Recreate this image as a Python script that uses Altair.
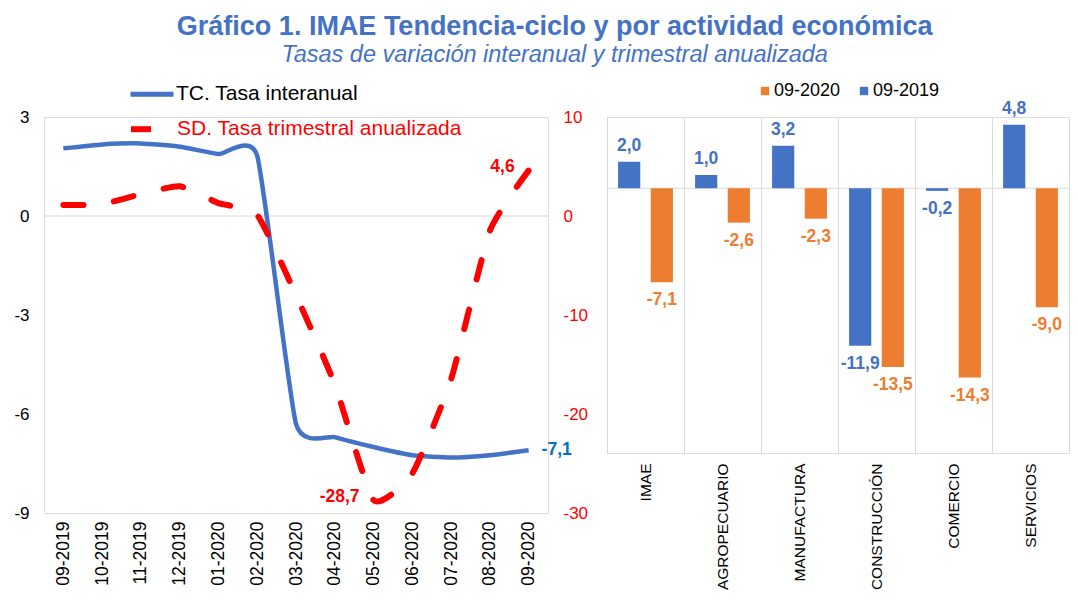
import altair as alt
import pandas as pd

# ---------------- data ----------------
meses = ['09-2019', '10-2019', '11-2019', '12-2019', '01-2020', '02-2020', '03-2020',
         '04-2020', '05-2020', '06-2020', '07-2020', '08-2020', '09-2020']
tc_interanual = [2.05, 2.17, 2.2, 2.1, 1.88, 1.82, -6.3, -6.7, -7.0, -7.25, -7.32, -7.25, -7.1]
sd_trimestral = [1.1, 1.2, 2.2, 3.0, 1.3, 0.1, -8.0, -17.0, -28.7, -26.0, -16.5, -1.5, 4.6]

actividades = ['IMAE', 'AGROPECUARIO', 'MANUFACTURA', 'CONSTRUCCIÓN', 'COMERCIO', 'SERVICIOS']
var_2019 = [2.0, 1.0, 3.2, -11.9, -0.2, 4.8]
var_2020 = [-7.1, -2.6, -2.3, -13.5, -14.3, -9.0]

TC_NAME = 'TC. Tasa interanual'
SD_NAME = 'SD. Tasa trimestral anualizada'
FONT = 'Liberation Sans'
BLUE = '#4472C4'
ORANGE = '#ED7D31'
RED = '#FF0000'
MINUS = '\u2212'

df_tc = pd.DataFrame({'mes': meses, 'valor': tc_interanual, 'serie': TC_NAME})
df_sd = pd.DataFrame({'mes': meses, 'valor': sd_trimestral, 'serie': SD_NAME})
df_zero = pd.DataFrame({'valor': [0]})

df_bar = pd.concat([
    pd.DataFrame({'actividad': actividades, 'periodo': '09-2019', 'valor': var_2019}),
    pd.DataFrame({'actividad': actividades, 'periodo': '09-2020', 'valor': var_2020}),
], ignore_index=True)

label_expr = "replace(replace(format(datum.valor, '.1f'), '.', ','), '" + MINUS + "', '-')"
axis_label_expr = "replace(datum.label, '" + MINUS + "', '-')"

# ---------------- left panel ----------------
x_left = alt.X('mes:N', sort=meses,
               scale=alt.Scale(type='point', padding=0.5),
               axis=alt.Axis(title=None, labelAngle=270, labelFontSize=17.5, labelColor='black',
                             labelFont=FONT, domain=False, ticks=False, labelPadding=8, grid=False))

y_tc = alt.Y('valor:Q', scale=alt.Scale(domain=[-9, 3], nice=False, zero=False),
             axis=alt.Axis(title=None, values=[-9, -6, -3, 0, 3], orient='left', labelFontSize=17,
                           labelColor='black', labelFont=FONT, domain=False, ticks=False,
                           grid=False, labelPadding=15, labelExpr=axis_label_expr))

y_sd = alt.Y('valor:Q', scale=alt.Scale(domain=[-30, 10], nice=False, zero=False),
             axis=alt.Axis(title=None, values=[-30, -20, -10, 0, 10], orient='right', labelFontSize=17,
                           labelColor=RED, labelFont=FONT, domain=False, ticks=False,
                           grid=False, labelPadding=15, labelExpr=axis_label_expr))

zero_rule = alt.Chart(df_zero).mark_rule(color='#d9d9d9', strokeWidth=1).encode(y=y_tc)

tc_line = alt.Chart(df_tc).mark_line(strokeWidth=4.5, interpolate='cardinal', tension=0.5).encode(
    x=x_left, y=y_tc,
    color=alt.Color('serie:N', scale=alt.Scale(domain=[TC_NAME], range=[BLUE]),
                    legend=alt.Legend(title=None, orient='none', legendX=84, legendY=-46.7,
                                      symbolType='stroke', symbolSize=1849, symbolStrokeWidth=5,
                                      labelFontSize=21, labelColor='black', labelFont=FONT,
                                      labelLimit=0, padding=0, labelOffset=0)))

tc_label = alt.Chart(df_tc).transform_filter(
    alt.datum.mes == '09-2020'
).transform_calculate(lbl=label_expr).mark_text(
    align='left', baseline='middle', dx=13, fontSize=17.5, fontWeight='bold', font=FONT, color='#0070C0'
).encode(x=x_left, y=y_tc, text='lbl:N')

sd_line = alt.Chart(df_sd).mark_line(strokeWidth=6, strokeDash=[20, 31], strokeCap='round',
                                     interpolate='cardinal', tension=0.5).encode(
    x=x_left, y=y_sd,
    stroke=alt.Stroke('serie:N', scale=alt.Scale(domain=[SD_NAME], range=[RED]),
                      legend=alt.Legend(title=None, orient='none', legendX=84, legendY=-12.3,
                                        symbolType='stroke', symbolSize=1849, symbolStrokeWidth=6,
                                        symbolDash=[20, 31],
                                        labelFontSize=21, labelColor=RED, labelFont=FONT,
                                        labelLimit=0, padding=0, labelOffset=0)))

sd_label = alt.Chart(df_sd).transform_filter(
    alt.FieldOneOfPredicate(field='mes', oneOf=['05-2020', '09-2020'])
).transform_calculate(lbl=label_expr).mark_text(
    align='right', baseline='middle', dx=-14, dy=-3, fontSize=17.5, fontWeight='bold', font=FONT, color=RED
).encode(x=x_left, y=y_sd, text='lbl:N')

left = alt.layer(
    alt.layer(zero_rule, tc_line, tc_label),
    alt.layer(sd_line, sd_label),
).resolve_scale(y='independent').properties(width=504, height=396)

# ---------------- right panel ----------------
x_right = alt.X('actividad:N', sort=actividades,
                scale=alt.Scale(paddingInner=0, paddingOuter=0),
                axis=alt.Axis(title=None, labelAngle=270, tickBand='extent', grid=True,
                              gridColor='#d9d9d9', domain=False, ticks=False, labelFontSize=15.5,
                              labelColor='black', labelFont=FONT, labelPadding=10))
xoff = alt.XOffset('periodo:N', sort=['09-2019', '09-2020'],
                   scale=alt.Scale(paddingInner=0.32, paddingOuter=0.34))
y_right = alt.Y('valor:Q', scale=alt.Scale(domain=[-20, 5.38], nice=False, zero=False), axis=None)
color_right = alt.Color('periodo:N', scale=alt.Scale(domain=['09-2020', '09-2019'], range=[ORANGE, BLUE]),
                        legend=alt.Legend(title=None, orient='none', legendX=149, legendY=-35,
                                          direction='horizontal', symbolType='square', symbolSize=70,
                                          symbolStrokeWidth=0, labelFontSize=18, labelFont=FONT,
                                          labelColor='black', columnPadding=14, labelOffset=0,
                                          labelLimit=0, padding=0))

zero_rule_r = alt.Chart(df_zero).mark_rule(color='#d9d9d9', strokeWidth=1).encode(y=y_right)
bars = alt.Chart(df_bar).mark_bar().encode(x=x_right, xOffset=xoff, y=y_right, color=color_right)
pos_lbl = alt.Chart(df_bar).transform_filter(alt.datum.valor >= 0).transform_calculate(
    lbl=label_expr).mark_text(baseline='alphabetic', dy=-11, fontSize=17.5, fontWeight='bold', font=FONT
).encode(x=x_right, xOffset=xoff, y=y_right, text='lbl:N', color=color_right)
neg_lbl = alt.Chart(df_bar).transform_filter(alt.datum.valor < 0).transform_calculate(
    lbl=label_expr).mark_text(baseline='top', dy=9, fontSize=17.5, fontWeight='bold', font=FONT
).encode(x=x_right, xOffset=xoff, y=y_right, text='lbl:N', color=color_right)

right = alt.layer(zero_rule_r, bars, pos_lbl, neg_lbl).properties(width=462, height=336)

chart = alt.hconcat(left, right, spacing=10).resolve_scale(
    color='independent', stroke='independent'
).properties(
    padding={'left': 5, 'right': 0, 'top': 5, 'bottom': 5},
    title=alt.TitleParams(
        text='Gráfico 1. IMAE Tendencia-ciclo y por actividad económica',
        subtitle='Tasas de variación interanual y trimestral anualizada',
        font=FONT, fontSize=27, fontWeight='bold', color=BLUE,
        subtitleFont=FONT, subtitleFontSize=23.5, subtitleFontStyle='italic', subtitleColor=BLUE,
        anchor='middle', dx=13, subtitlePadding=2, offset=2)
).configure_view(stroke=None).configure(background='white')

chart.save('out.html', embed_options={'renderer': 'svg', 'actions': False})
